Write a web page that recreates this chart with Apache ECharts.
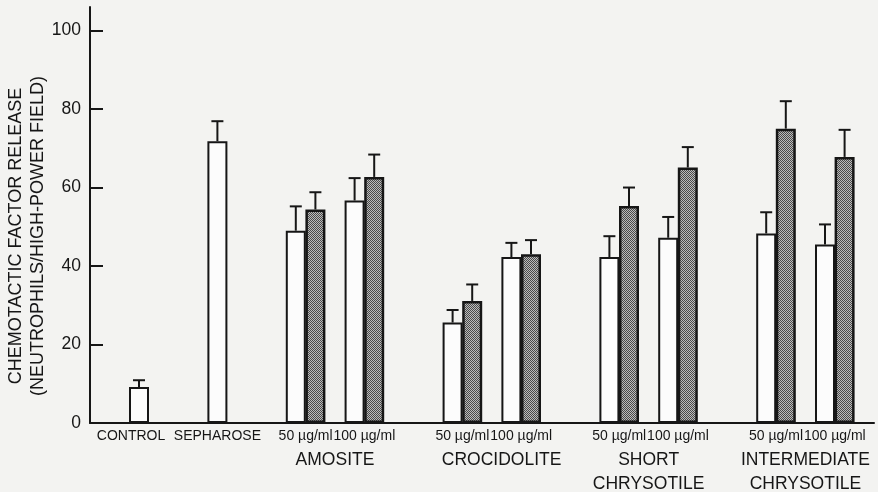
<!DOCTYPE html>
<html>
<head>
<meta charset="utf-8">
<script src="https://cdn.jsdelivr.net/npm/echarts@6/dist/echarts.min.js"></script>
<style>
html,body{margin:0;padding:0;background:#f3f3f1;}
#chart{width:878px;height:492px;}
</style>
</head>
<body>
<div id="chart"></div>
<script>
// ---- data ----
const categories = ['CONTROL', 'SEPHAROSE', '50 µg/ml', '100 µg/ml', '50 µg/ml', '100 µg/ml', '50 µg/ml', '100 µg/ml', '50 µg/ml', '100 µg/ml'];
const groupNames = ['AMOSITE', 'CROCIDOLITE', 'SHORT\nCHRYSOTILE', 'INTERMEDIATE\nCHRYSOTILE'];
const openValues = [9.2, 71.8, 49.0, 56.7, 25.6, 42.3, 42.3, 47.2, 48.3, 45.5];
const openErrors = [1.7, 5.1, 6.2, 5.7, 3.2, 3.6, 5.3, 5.3, 5.4, 5.1];
const shadedValues = [null, null, 54.4, 62.7, 31.1, 43.0, 55.3, 65.1, 75.0, 67.8];
const shadedErrors = [null, null, 4.4, 5.7, 4.2, 3.6, 4.7, 5.2, 7.0, 6.9];
const yTicks = [0, 20, 40, 60, 80, 100];

// ---- layout (slot positions on a fine category axis) ----
const slotCount = 81;
const categorySlots = [5, 13, 22, 28, 38, 44, 54, 60, 70, 76];
const groupSlots = [25, 42, 57, 73];

const slotData = Array.from({length: slotCount}, (_, i) => String(i));
const labelAt = {};
const groupAt = {};
const openData = new Array(slotCount).fill(null);
const shadedData = new Array(slotCount).fill(null);
const errData = [];
categories.forEach((c, i) => {
  const s = categorySlots[i];
  labelAt[s] = (i === 0) ? '{l|' + c + '}' : c;
  const hasPair = shadedValues[i] != null;
  const ws = hasPair ? s - 1 : s;
  openData[ws] = openValues[i];
  errData.push([ws, openValues[i], openValues[i] + openErrors[i]]);
  if (hasPair) {
    shadedData[s + 1] = shadedValues[i];
    errData.push([s + 1, shadedValues[i], shadedValues[i] + shadedErrors[i]]);
  }
});
groupNames.forEach((g, i) => { groupAt[groupSlots[i]] = g; });

// stipple pattern for shaded bars
const pc = document.createElement('canvas');
pc.width = 2; pc.height = 2;
const pctx = pc.getContext('2d');
pctx.fillStyle = '#bcbcbc'; pctx.fillRect(0, 0, 2, 2);
pctx.fillStyle = '#4a4a4a'; pctx.fillRect(0, 0, 1, 1); pctx.fillRect(1, 1, 1, 1);

const FONT = '"Liberation Sans", Arial, Helvetica, sans-serif';
const INK = '#161616';

const chart = echarts.init(document.getElementById('chart'), null, {renderer: 'canvas'});
chart.setOption({
  animation: false,
  backgroundColor: '#f3f3f1',
  grid: {left: 90, right: 4, top: 7, bottom: 69, containLabel: false, outerBoundsMode: 'none'},
  xAxis: [{
    type: 'category', data: slotData, boundaryGap: false,
    axisLine: {lineStyle: {color: INK, width: 2}},
    axisTick: {show: false},
    axisLabel: {interval: 0, margin: 6, fontSize: 14, color: INK, fontFamily: FONT,
      formatter: v => labelAt[+v] || '',
      rich: {l: {fontSize: 14, color: INK, fontFamily: FONT, padding: [0, 16, 0, 0]}}},
    splitLine: {show: false}
  }, {
    type: 'category', data: slotData, boundaryGap: false, position: 'bottom',
    axisLine: {show: false}, axisTick: {show: false},
    axisLabel: {interval: 0, margin: 25, fontSize: 17.5, lineHeight: 24, color: INK, fontFamily: FONT,
      formatter: v => groupAt[+v] || ''},
    splitLine: {show: false}
  }],
  yAxis: {
    type: 'value', min: 0, max: 106,
    axisLine: {show: true, lineStyle: {color: INK, width: 2}},
    axisTick: {show: true, inside: true, length: 13, customValues: yTicks, lineStyle: {color: INK, width: 2}},
    axisLabel: {customValues: yTicks, margin: 9, fontSize: 17.5, color: INK, fontFamily: FONT},
    splitLine: {show: false}
  },
  graphic: [{
    type: 'text', x: 27, y: 236, rotation: Math.PI / 2,
    style: {
      text: 'CHEMOTACTIC FACTOR RELEASE\n(NEUTROPHILS/HIGH-POWER FIELD)',
      align: 'center', verticalAlign: 'middle', lineHeight: 22,
      fontSize: 18, fontFamily: FONT, fill: INK
    }
  }],
  series: [{
    type: 'bar', data: openData, barWidth: 20, barGap: '-100%',
    itemStyle: {color: '#fcfcfc', borderColor: INK, borderWidth: 2}
  }, {
    type: 'bar', data: shadedData, barWidth: 20, barGap: '-100%',
    itemStyle: {color: {image: pc, repetition: 'repeat'}, borderColor: INK, borderWidth: 2.5}
  }, {
    type: 'custom', data: errData, encode: {x: 0, y: [1, 2]}, z: 5,
    renderItem: function (params, api) {
      const x = api.value(0);
      const p0 = api.coord([x, api.value(1)]);
      const p1 = api.coord([x, api.value(2)]);
      const half = 6;
      return {type: 'group', children: [
        {type: 'line', shape: {x1: p0[0], y1: p0[1], x2: p1[0], y2: p1[1]}, style: {stroke: INK, lineWidth: 2}},
        {type: 'line', shape: {x1: p1[0] - half, y1: p1[1], x2: p1[0] + half, y2: p1[1]}, style: {stroke: INK, lineWidth: 2}}
      ]};
    }
  }]
});
</script>
</body>
</html>
